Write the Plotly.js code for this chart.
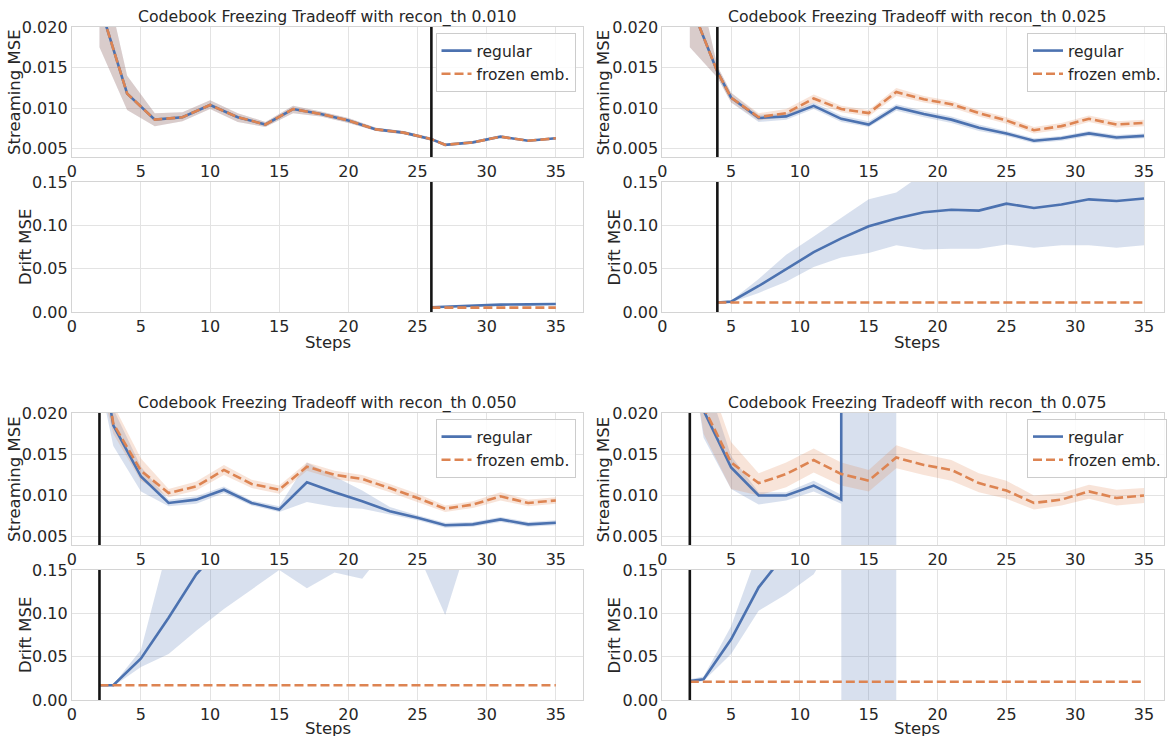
<!DOCTYPE html>
<html><head><meta charset="utf-8">
<script src="https://cdn.plot.ly/plotly-3.0.1.min.js"></script>
<style>html,body{margin:0;padding:0;background:#fff;} #chart{width:1167px;height:736px;}</style>
</head><body><div id="chart"></div>
<script>
// ===== recon_th 0.010 =====
const steps_010 = [2,4,6,8,10,12,14,16,18,20,22,24,26,27,29,31,33,35];
const stream_reg_010 = [0.0228,0.0118,0.0086,0.0089,0.0104,0.0089,0.0080,0.0099,0.0093,0.0085,0.0074,0.0070,0.0062,0.0055,0.0058,0.0065,0.0060,0.0063];
const stream_reg_010_lo = [0.0175,0.0098,0.0078,0.0084,0.0099,0.0083,0.0077,0.0094,0.0090,0.0082,0.0072,0.0068,0.0060,0.0054,0.0057,0.0064,0.0059,0.0062];
const stream_reg_010_hi = [0.0290,0.0140,0.0094,0.0095,0.0110,0.0094,0.0083,0.0103,0.0096,0.0088,0.0076,0.0072,0.0064,0.0056,0.0059,0.0066,0.0061,0.0064];
const stream_frz_010 = [0.0228,0.0118,0.0086,0.0089,0.0104,0.0089,0.0080,0.0099,0.0093,0.0085,0.0074,0.0070,0.0062,0.0055,0.0058,0.0065,0.0060,0.0063];
const stream_frz_010_lo = [0.0175,0.0098,0.0078,0.0084,0.0099,0.0083,0.0077,0.0094,0.0090,0.0082,0.0072,0.0068,0.0060,0.0054,0.0057,0.0064,0.0059,0.0062];
const stream_frz_010_hi = [0.0290,0.0140,0.0094,0.0095,0.0110,0.0094,0.0083,0.0103,0.0096,0.0088,0.0076,0.0072,0.0064,0.0056,0.0059,0.0066,0.0061,0.0064];
const drift_steps_010 = [26,27,29,31,33,35];
const drift_reg_010 = [0.0055,0.0062,0.0078,0.0085,0.0088,0.0093];
const drift_reg_010_lo = [0.0052,0.0059,0.0075,0.0082,0.0085,0.0090];
const drift_reg_010_hi = [0.0058,0.0065,0.0081,0.0088,0.0091,0.0096];
const drift_frz_010 = [0.005,0.005,0.005,0.005,0.005,0.005];
const switch_010 = 26;

// ===== recon_th 0.025 =====
const steps_025 = [2,4,5,7,9,11,13,15,17,19,21,23,25,27,29,31,33,35];
const stream_reg_025 = [0.0230,0.0145,0.0113,0.0088,0.0090,0.0103,0.0087,0.0080,0.0101,0.0093,0.0086,0.0076,0.0069,0.0060,0.0063,0.0069,0.0064,0.0066];
const stream_reg_025_lo = [0.0175,0.0138,0.0107,0.0083,0.0086,0.0099,0.0083,0.0077,0.0097,0.0089,0.0082,0.0072,0.0066,0.0057,0.0060,0.0066,0.0061,0.0063];
const stream_reg_025_hi = [0.0300,0.0152,0.0119,0.0092,0.0094,0.0107,0.0091,0.0084,0.0105,0.0097,0.0090,0.0080,0.0072,0.0063,0.0066,0.0072,0.0067,0.0069];
const stream_frz_025 = [0.0230,0.0145,0.0113,0.0089,0.0094,0.0112,0.0099,0.0094,0.0120,0.0111,0.0105,0.0094,0.0085,0.0073,0.0078,0.0087,0.0080,0.0082];
const stream_frz_025_lo = [0.0175,0.0138,0.0107,0.0085,0.0090,0.0107,0.0095,0.0090,0.0115,0.0107,0.0101,0.0090,0.0081,0.0069,0.0074,0.0083,0.0076,0.0078];
const stream_frz_025_hi = [0.0300,0.0152,0.0119,0.0094,0.0099,0.0117,0.0103,0.0098,0.0125,0.0115,0.0109,0.0098,0.0089,0.0077,0.0082,0.0091,0.0084,0.0086];
const drift_steps_025 = [4,5,7,9,11,13,15,17,19,21,23,25,27,29,31,33,35];
const drift_reg_025 = [0.011,0.012,0.030,0.050,0.069,0.085,0.099,0.108,0.115,0.118,0.117,0.125,0.120,0.124,0.130,0.128,0.131];
const drift_reg_025_lo = [0.011,0.011,0.022,0.035,0.052,0.063,0.068,0.077,0.072,0.073,0.073,0.078,0.074,0.077,0.077,0.074,0.077];
const drift_reg_025_hi = [0.012,0.013,0.038,0.066,0.087,0.108,0.130,0.138,0.160,0.168,0.170,0.178,0.172,0.176,0.186,0.184,0.188];
const drift_frz_025 = [0.011,0.011,0.011,0.011,0.011,0.011,0.011,0.011,0.011,0.011,0.011,0.011,0.011,0.011,0.011,0.011,0.011];
const switch_025 = 4;

// ===== recon_th 0.050 =====
const steps_050 = [2,3,5,7,9,11,13,15,17,19,21,23,25,27,29,31,33,35];
const stream_reg_050 = [0.0285,0.0185,0.0123,0.0091,0.0095,0.0107,0.0091,0.0083,0.0116,0.0104,0.0093,0.0081,0.0073,0.0064,0.0065,0.0071,0.0065,0.0067];
const stream_reg_050_lo = [0.0240,0.0160,0.0105,0.0087,0.0090,0.0103,0.0088,0.0080,0.0092,0.0086,0.0084,0.0077,0.0070,0.0061,0.0062,0.0068,0.0062,0.0064];
const stream_reg_050_hi = [0.0330,0.0205,0.0135,0.0095,0.0099,0.0111,0.0094,0.0087,0.0140,0.0123,0.0106,0.0086,0.0076,0.0067,0.0068,0.0074,0.0068,0.0070];
const stream_frz_050 = [0.0290,0.0187,0.0130,0.0103,0.0111,0.0131,0.0114,0.0107,0.0135,0.0125,0.0120,0.0109,0.0097,0.0084,0.0089,0.0099,0.0091,0.0094];
const stream_frz_050_lo = [0.0240,0.0175,0.0118,0.0098,0.0106,0.0125,0.0109,0.0102,0.0130,0.0120,0.0115,0.0104,0.0092,0.0080,0.0085,0.0094,0.0087,0.0090];
const stream_frz_050_hi = [0.0340,0.0210,0.0145,0.0108,0.0117,0.0137,0.0119,0.0112,0.0140,0.0130,0.0125,0.0114,0.0102,0.0088,0.0093,0.0104,0.0095,0.0098];
const drift_steps_050 = [2,3,5,7,9,11,13,15,17,19,21,23,25,27,29,31,33,35];
const drift_reg_050 = [0.017,0.017,0.048,0.095,0.145,0.180,0.215,0.235,0.240,0.250,0.255,0.260,0.262,0.250,0.265,0.270,0.272,0.275];
const drift_reg_050_lo = [0.016,0.016,0.038,0.053,0.080,0.105,0.127,0.150,0.129,0.147,0.140,0.180,0.170,0.098,0.200,0.200,0.200,0.200];
const drift_reg_050_hi = [0.018,0.018,0.058,0.180,0.250,0.300,0.320,0.340,0.350,0.360,0.370,0.380,0.390,0.400,0.400,0.400,0.400,0.400];
const drift_frz_050 = [0.017,0.017,0.017,0.017,0.017,0.017,0.017,0.017,0.017,0.017,0.017,0.017,0.017,0.017,0.017,0.017,0.017,0.017];
const switch_050 = 2;

// ===== recon_th 0.075 =====
const steps_075 = [2,3,5,7,9,11,13,15,17,19,21,23,25,27,29,31,33,35];
const stream_reg_075 = [0.0350,0.0203,0.0134,0.0100,0.0100,0.0112,0.0095,20.0,20.0,null,null,null,null,null,null,null,null,null];
const stream_reg_075_lo = [0.0280,0.0170,0.0108,0.0089,0.0094,0.0105,0.0090,-50.0,-50.0,null,null,null,null,null,null,null,null,null];
const stream_reg_075_hi = [0.0420,0.0250,0.0148,0.0104,0.0104,0.0118,0.0101,90.0,90.0,null,null,null,null,null,null,null,null,null];
const stream_frz_075 = [0.0350,0.0207,0.0140,0.0115,0.0126,0.0143,0.0126,0.0118,0.0146,0.0137,0.0131,0.0115,0.0106,0.0091,0.0095,0.0105,0.0097,0.0100];
const stream_frz_075_lo = [0.0280,0.0175,0.0108,0.0100,0.0110,0.0128,0.0112,0.0105,0.0133,0.0125,0.0118,0.0104,0.0096,0.0083,0.0088,0.0096,0.0088,0.0091];
const stream_frz_075_hi = [0.0420,0.0260,0.0165,0.0127,0.0140,0.0157,0.0140,0.0131,0.0161,0.0150,0.0143,0.0127,0.0118,0.0100,0.0103,0.0113,0.0107,0.0109];
const drift_steps_075 = [2,3,5,7,9,11,13,15,17,19,21,23,25,27,29,31,33,35];
const drift_reg_075 = [0.022,0.024,0.070,0.130,0.170,0.280,0.350,20.0,20.0,null,null,null,null,null,null,null,null,null];
const drift_reg_075_lo = [0.020,0.022,0.053,0.103,0.122,0.145,0.200,-50.0,-50.0,null,null,null,null,null,null,null,null,null];
const drift_reg_075_hi = [0.024,0.027,0.085,0.165,0.250,0.350,0.500,90.0,90.0,null,null,null,null,null,null,null,null,null];
const drift_frz_075 = [0.021,0.021,0.021,0.021,0.021,0.021,0.021,0.021,0.021,0.021,0.021,0.021,0.021,0.021,0.021,0.021,0.021,0.021];
const switch_075 = 2;

const thresholds = ['0.010','0.025','0.050','0.075'];
const x_ticks = [0,5,10,15,20,25,30,35];
const stream_ticks = [0.005,0.010,0.015,0.020];
const drift_ticks = [0.00,0.05,0.10,0.15];
const series_names = ['regular','frozen emb.'];

// ===== layout helpers =====
const W = 1167, H = 736;
const px = v => v / W;
const py = v => 1 - v / H;
const BLUE = '#4C72B0', ORANGE = '#DD8452';
const BLUE_F = 'rgba(76,114,176,0.22)', ORANGE_F = 'rgba(221,132,82,0.22)';
const FONT = 'DejaVu Sans, sans-serif';
const TXT = '#262626';

const panels = [
  {th: thresholds[0], s: steps_010, sr: stream_reg_010, srl: stream_reg_010_lo, srh: stream_reg_010_hi,
   sf: stream_frz_010, sfl: stream_frz_010_lo, sfh: stream_frz_010_hi,
   ds: drift_steps_010, dr: drift_reg_010, drl: drift_reg_010_lo, drh: drift_reg_010_hi, df: drift_frz_010, sw: switch_010,
   col: 0, row: 0},
  {th: thresholds[1], s: steps_025, sr: stream_reg_025, srl: stream_reg_025_lo, srh: stream_reg_025_hi,
   sf: stream_frz_025, sfl: stream_frz_025_lo, sfh: stream_frz_025_hi,
   ds: drift_steps_025, dr: drift_reg_025, drl: drift_reg_025_lo, drh: drift_reg_025_hi, df: drift_frz_025, sw: switch_025,
   col: 1, row: 0},
  {th: thresholds[2], s: steps_050, sr: stream_reg_050, srl: stream_reg_050_lo, srh: stream_reg_050_hi,
   sf: stream_frz_050, sfl: stream_frz_050_lo, sfh: stream_frz_050_hi,
   ds: drift_steps_050, dr: drift_reg_050, drl: drift_reg_050_lo, drh: drift_reg_050_hi, df: drift_frz_050, sw: switch_050,
   col: 0, row: 1},
  {th: thresholds[3], s: steps_075, sr: stream_reg_075, srl: stream_reg_075_lo, srh: stream_reg_075_hi,
   sf: stream_frz_075, sfl: stream_frz_075_lo, sfh: stream_frz_075_hi,
   ds: drift_steps_075, dr: drift_reg_075, drl: drift_reg_075_lo, drh: drift_reg_075_hi, df: drift_frz_075, sw: switch_075,
   col: 1, row: 1}
];

// pixel geometry
const colX = [[72, 585, 37], [664, 1167, 36.45]];
const rowY = [{st: [27, 157], dr: [182, 312], steps: 342}, {st: [413, 545], dr: [570, 700], steps: 728}];

function band(xs, lo, hi) {
  const X = [], Y = [];
  for (let i = 0; i < xs.length; i++) if (hi[i] !== null) { X.push(xs[i]); Y.push(hi[i]); }
  for (let i = xs.length - 1; i >= 0; i--) if (lo[i] !== null) { X.push(xs[i]); Y.push(lo[i]); }
  return {X, Y};
}

const traces = [];
const layout = {
  width: W, height: H, margin: {l: 0, r: 0, t: 0, b: 0},
  paper_bgcolor: '#ffffff', plot_bgcolor: '#ffffff',
  showlegend: true, shapes: [], annotations: [],
  font: {family: FONT, color: TXT, size: 15}
};

const axBase = {
  showgrid: true, gridcolor: '#e3e3e3', gridwidth: 1, zeroline: false,
  showline: true, mirror: true, linecolor: '#d4d4d4', linewidth: 1,
  ticks: '', tickfont: {family: FONT, size: 16, color: TXT}, fixedrange: true
};

panels.forEach((p, k) => {
  const [xl, xr, xmax] = colX[p.col];
  const R = rowY[p.row];
  const iS = 2 * k + 1, iD = 2 * k + 2;
  const xS = 'x' + (iS === 1 ? '' : iS), yS = 'y' + (iS === 1 ? '' : iS);
  const xD = 'x' + iD, yD = 'y' + iD;
  const legId = 'legend' + (k === 0 ? '' : (k + 1));

  layout['xaxis' + (iS === 1 ? '' : iS)] = Object.assign({}, axBase, {
    domain: [px(xl), px(xr)], range: [0, xmax], anchor: yS, tickvals: x_ticks});
  layout['yaxis' + (iS === 1 ? '' : iS)] = Object.assign({}, axBase, {
    domain: [py(R.st[1]), py(R.st[0])], range: [0.004, 0.0200001], anchor: xS,
    tickvals: stream_ticks, tickformat: '.3f'});
  layout['xaxis' + iD] = Object.assign({}, axBase, {
    domain: [px(xl), px(xr)], range: [0, xmax], anchor: yD, tickvals: x_ticks});
  layout['yaxis' + iD] = Object.assign({}, axBase, {
    domain: [py(R.dr[1]), py(R.dr[0])], range: [0, 0.15], anchor: xD,
    tickvals: drift_ticks, tickformat: '.2f'});

  // streaming bands
  let b = band(p.s, p.srl, p.srh);
  traces.push({x: b.X, y: b.Y, xaxis: xS, yaxis: yS, type: 'scatter', mode: 'lines', fill: 'toself',
    fillcolor: BLUE_F, line: {width: 0}, showlegend: false, hoverinfo: 'skip'});
  b = band(p.s, p.sfl, p.sfh);
  traces.push({x: b.X, y: b.Y, xaxis: xS, yaxis: yS, type: 'scatter', mode: 'lines', fill: 'toself',
    fillcolor: ORANGE_F, line: {width: 0}, showlegend: false, hoverinfo: 'skip'});
  traces.push({x: p.s, y: p.sr, xaxis: xS, yaxis: yS, type: 'scatter', mode: 'lines', name: series_names[0],
    line: {color: BLUE, width: 2.6}, legend: legId, showlegend: true, connectgaps: false});
  traces.push({x: p.s, y: p.sf, xaxis: xS, yaxis: yS, type: 'scatter', mode: 'lines', name: series_names[1],
    line: {color: ORANGE, width: 2.6, dash: '9px,4px'}, legend: legId, showlegend: true});

  // drift bands
  b = band(p.ds, p.drl, p.drh);
  traces.push({x: b.X, y: b.Y, xaxis: xD, yaxis: yD, type: 'scatter', mode: 'lines', fill: 'toself',
    fillcolor: BLUE_F, line: {width: 0}, showlegend: false, hoverinfo: 'skip'});
  traces.push({x: p.ds, y: p.dr, xaxis: xD, yaxis: yD, type: 'scatter', mode: 'lines',
    line: {color: BLUE, width: 2.6}, showlegend: false, connectgaps: false});
  traces.push({x: p.ds, y: p.df, xaxis: xD, yaxis: yD, type: 'scatter', mode: 'lines',
    line: {color: ORANGE, width: 2.6, dash: '9px,4px'}, showlegend: false});

  // switch lines
  [[xS, yS], [xD, yD]].forEach(([xa, ya]) => {
    layout.shapes.push({type: 'line', xref: xa, yref: ya + ' domain', x0: p.sw, x1: p.sw, y0: 0, y1: 1,
      line: {color: '#141414', width: 2.6}, layer: 'above'});
  });

  // legend
  const legTop = py(R.st[0] + 6);
  layout[legId] = {
    x: p.col === 0 ? px(577) : px(1030), xanchor: p.col === 0 ? 'right' : 'left',
    y: legTop, yanchor: 'top', bgcolor: 'rgba(255,255,255,0.85)', bordercolor: '#cccccc', borderwidth: 1,
    font: {family: FONT, size: 15.5, color: TXT}, itemwidth: 30, tracegroupgap: 0
  };

  // titles
  const cx = (xl + (p.col === 0 ? xr : 1175)) / 2;
  layout.annotations.push({text: 'Codebook Freezing Tradeoff with recon_th ' + p.th, xref: 'paper', yref: 'paper',
    x: px(cx), y: py(R.st[0] - 10), xanchor: 'center', yanchor: 'middle', showarrow: false,
    font: {family: FONT, size: 15.7, color: TXT}});
  const lx = p.col === 0 ? 0 : 591;
  layout.annotations.push({text: 'Streaming MSE', xref: 'paper', yref: 'paper', textangle: -90,
    x: px(lx + 14), y: py((R.st[0] + R.st[1]) / 2), xanchor: 'center', yanchor: 'middle', showarrow: false,
    font: {family: FONT, size: 16.5, color: TXT}});
  layout.annotations.push({text: 'Drift MSE', xref: 'paper', yref: 'paper', textangle: -90,
    x: px(lx + 25), y: py((R.dr[0] + R.dr[1]) / 2), xanchor: 'center', yanchor: 'middle', showarrow: false,
    font: {family: FONT, size: 16.5, color: TXT}});
  layout.annotations.push({text: 'Steps', xref: 'paper', yref: 'paper',
    x: px(cx), y: py(R.steps), xanchor: 'center', yanchor: 'middle', showarrow: false,
    font: {family: FONT, size: 16.5, color: TXT}});
});

Plotly.newPlot('chart', traces, layout, {displayModeBar: false, staticPlot: true});
</script></body></html>
